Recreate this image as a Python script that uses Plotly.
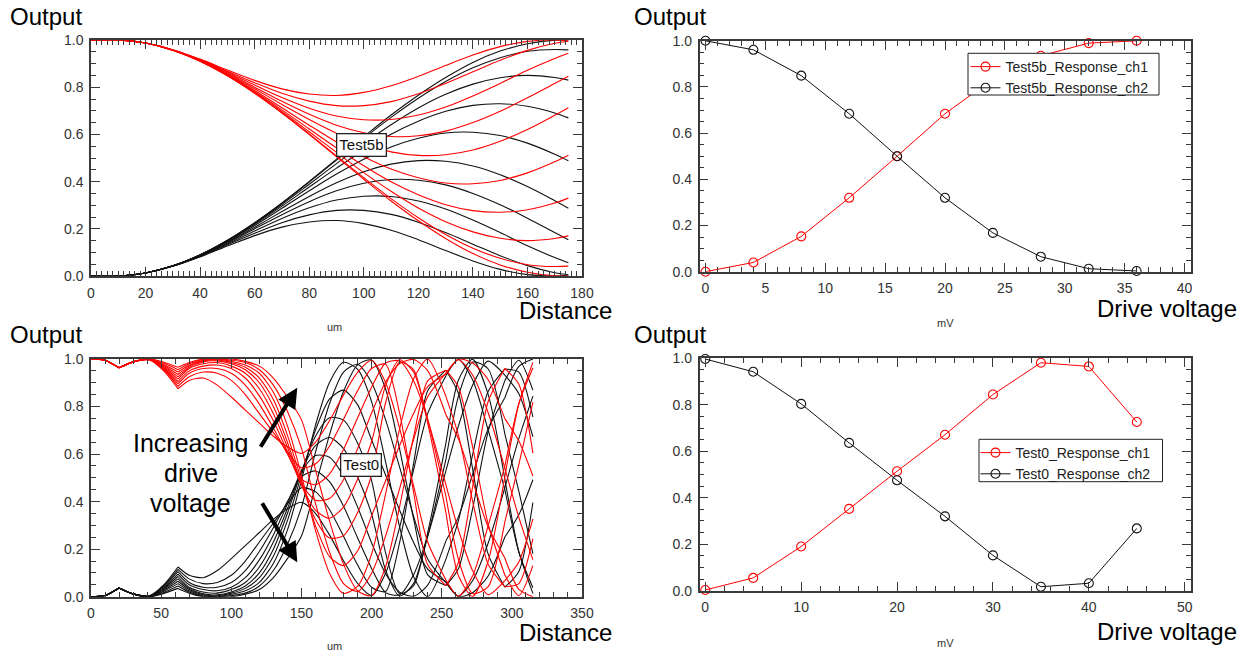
import plotly.graph_objects as go

# ---------------- data: top-left (Test5b, output vs distance) ----------------
TL_X = [0, 10, 20, 30, 40, 50, 60, 70, 80, 90, 100, 110, 120, 130, 140, 150, 160, 170, 175]

TL_RED_1 = [1.0, 1.0, 0.987, 0.959, 0.919, 0.873, 0.829, 0.793, 0.771, 0.765, 0.778, 0.806, 0.846, 0.892, 0.936, 0.972, 0.994, 1.0, 0.996]
TL_RED_2 = [1.0, 1.0, 0.987, 0.958, 0.917, 0.868, 0.819, 0.774, 0.741, 0.722, 0.722, 0.739, 0.772, 0.816, 0.865, 0.914, 0.956, 0.986, 0.995]
TL_RED_3 = [1.0, 1.0, 0.987, 0.958, 0.915, 0.864, 0.809, 0.756, 0.711, 0.678, 0.662, 0.663, 0.682, 0.716, 0.763, 0.816, 0.872, 0.922, 0.944]
TL_RED_4 = [1.0, 1.0, 0.987, 0.958, 0.914, 0.860, 0.800, 0.740, 0.685, 0.639, 0.607, 0.591, 0.594, 0.614, 0.650, 0.698, 0.755, 0.816, 0.846]
TL_RED_5 = [1.0, 1.0, 0.987, 0.957, 0.913, 0.857, 0.793, 0.727, 0.663, 0.605, 0.558, 0.526, 0.511, 0.514, 0.534, 0.571, 0.621, 0.681, 0.713]
TL_RED_6 = [1.0, 1.0, 0.987, 0.957, 0.912, 0.854, 0.786, 0.713, 0.639, 0.568, 0.505, 0.453, 0.416, 0.394, 0.391, 0.405, 0.437, 0.484, 0.512]
TL_RED_7 = [1.0, 1.0, 0.987, 0.957, 0.911, 0.852, 0.781, 0.704, 0.623, 0.543, 0.467, 0.399, 0.344, 0.302, 0.277, 0.270, 0.281, 0.309, 0.330]
TL_RED_8 = [1.0, 1.0, 0.987, 0.957, 0.911, 0.850, 0.778, 0.697, 0.611, 0.524, 0.438, 0.359, 0.288, 0.230, 0.187, 0.160, 0.150, 0.159, 0.170]
TL_RED_9 = [1.0, 1.0, 0.987, 0.957, 0.910, 0.849, 0.775, 0.692, 0.602, 0.509, 0.417, 0.328, 0.247, 0.176, 0.118, 0.075, 0.048, 0.040, 0.042]
TL_RED_10 = [1.0, 1.0, 0.987, 0.957, 0.910, 0.848, 0.774, 0.690, 0.599, 0.505, 0.410, 0.318, 0.234, 0.159, 0.095, 0.047, 0.016, 0.001, 0.000]

TL_BLACK_1 = [0.0, 0.0, 0.013, 0.041, 0.081, 0.127, 0.171, 0.207, 0.229, 0.235, 0.222, 0.194, 0.154, 0.108, 0.064, 0.028, 0.006, 0.0, 0.004]
TL_BLACK_2 = [0.0, 0.0, 0.013, 0.042, 0.083, 0.132, 0.181, 0.226, 0.259, 0.278, 0.278, 0.261, 0.228, 0.184, 0.135, 0.086, 0.044, 0.014, 0.005]
TL_BLACK_3 = [0.0, 0.0, 0.013, 0.042, 0.085, 0.136, 0.191, 0.244, 0.289, 0.322, 0.338, 0.337, 0.318, 0.284, 0.237, 0.184, 0.128, 0.078, 0.056]
TL_BLACK_4 = [0.0, 0.0, 0.013, 0.042, 0.086, 0.140, 0.200, 0.260, 0.315, 0.361, 0.393, 0.409, 0.406, 0.386, 0.350, 0.302, 0.245, 0.184, 0.154]
TL_BLACK_5 = [0.0, 0.0, 0.013, 0.043, 0.087, 0.143, 0.207, 0.273, 0.337, 0.395, 0.442, 0.474, 0.489, 0.486, 0.466, 0.429, 0.379, 0.319, 0.287]
TL_BLACK_6 = [0.0, 0.0, 0.013, 0.043, 0.088, 0.146, 0.214, 0.287, 0.361, 0.432, 0.495, 0.547, 0.584, 0.606, 0.609, 0.595, 0.563, 0.516, 0.488]
TL_BLACK_7 = [0.0, 0.0, 0.013, 0.043, 0.089, 0.148, 0.219, 0.296, 0.377, 0.457, 0.533, 0.601, 0.656, 0.698, 0.723, 0.730, 0.719, 0.691, 0.670]
TL_BLACK_8 = [0.0, 0.0, 0.013, 0.043, 0.089, 0.150, 0.222, 0.303, 0.389, 0.476, 0.562, 0.641, 0.712, 0.770, 0.813, 0.840, 0.850, 0.841, 0.830]
TL_BLACK_9 = [0.0, 0.0, 0.013, 0.043, 0.090, 0.151, 0.225, 0.308, 0.398, 0.491, 0.583, 0.672, 0.753, 0.824, 0.882, 0.925, 0.952, 0.960, 0.958]
TL_BLACK_10 = [0.0, 0.0, 0.013, 0.043, 0.090, 0.152, 0.226, 0.310, 0.401, 0.495, 0.590, 0.682, 0.766, 0.841, 0.905, 0.953, 0.984, 0.999, 1.0]

# ---------------- data: bottom-left (Test0, output vs distance) ----------------
BL_X = [0, 10, 20, 30, 42, 52, 62, 70, 80, 90, 100, 110, 120, 130, 140, 150, 160, 170, 180,
        190, 200, 210, 220, 230, 240, 253, 262, 272, 283, 295, 305, 315]
BL_CUSPS = [20, 62, 253, 295]

BL_RED_0 = [1.0, 0.995, 0.963, 0.988, 0.995, 0.949, 0.875, 0.910, 0.920, 0.890, 0.840, 0.785, 0.730, 0.675, 0.630, 0.603, 0.649, 0.740, 0.849, 0.944, 0.995,
            0.901, 0.708, 0.465, 0.230, 0.070, 0.002, 0.087, 0.296, 0.549, 0.813, 0.962]
BL_RED_1 = [1.0, 0.995, 0.963, 0.988, 0.996, 0.953, 0.885, 0.925, 0.945, 0.940, 0.910, 0.850, 0.770, 0.690, 0.610, 0.542, 0.558, 0.633, 0.746, 0.866, 0.960,
            0.978, 0.772, 0.438, 0.134, 0.047, 0.145, 0.461, 0.819, 0.960, 0.894, 0.604]
BL_RED_2 = [1.0, 0.995, 0.963, 0.988, 0.997, 0.957, 0.895, 0.940, 0.960, 0.960, 0.940, 0.890, 0.810, 0.710, 0.600, 0.495, 0.471, 0.516, 0.619, 0.752, 0.881,
            0.983, 0.992, 0.907, 0.745, 0.470, 0.280, 0.110, 0.009, 0.068, 0.146, 0.327]
BL_RED_3 = [1.0, 0.995, 0.963, 0.988, 0.998, 0.961, 0.905, 0.950, 0.970, 0.975, 0.960, 0.920, 0.845, 0.740, 0.610, 0.473, 0.406, 0.413, 0.492, 0.622, 0.773,
            0.903, 0.981, 0.998, 0.951, 0.765, 0.663, 0.486, 0.295, 0.163, 0.031, 0.000]
BL_RED_4 = [1.0, 0.995, 0.963, 0.988, 0.998, 0.965, 0.915, 0.960, 0.980, 0.985, 0.970, 0.940, 0.875, 0.770, 0.630, 0.471, 0.364, 0.330, 0.377, 0.494, 0.652,
            0.888, 0.997, 0.944, 0.746, 0.422, 0.155, 0.013, 0.041, 0.315, 0.557, 0.819]
BL_RED_5 = [1.0, 0.995, 0.963, 0.988, 0.999, 0.969, 0.925, 0.965, 0.988, 0.992, 0.980, 0.955, 0.900, 0.800, 0.650, 0.474, 0.325, 0.247, 0.257, 0.353, 0.512,
            0.816, 0.987, 0.954, 0.730, 0.354, 0.087, 0.001, 0.147, 0.505, 0.811, 0.986]
BL_RED_6 = [1.0, 0.995, 0.963, 0.988, 0.999, 0.973, 0.935, 0.970, 0.992, 0.996, 0.985, 0.965, 0.920, 0.830, 0.680, 0.489, 0.299, 0.169, 0.131, 0.192, 0.340,
            0.488, 0.636, 0.772, 0.884, 0.937, 1.000, 0.983, 0.914, 0.749, 0.655, 0.508]
BL_RED_7 = [1.0, 0.995, 0.963, 0.988, 1.0, 0.977, 0.945, 0.975, 0.995, 1.0, 0.990, 0.975, 0.940, 0.860, 0.720, 0.511, 0.279, 0.099, 0.014, 0.043, 0.179,
            0.433, 0.706, 0.917, 1.000, 0.842, 0.678, 0.403, 0.138, 0.042, 0.055, 0.244]
BL_RED_8 = [1.0, 0.995, 0.963, 0.988, 1.0, 0.982, 0.955, 0.980, 0.998, 1.0, 0.995, 0.985, 0.955, 0.890, 0.780, 0.625, 0.393, 0.188, 0.055, 0.022, 0.099,
            0.256, 0.455, 0.662, 0.841, 0.941, 0.997, 0.933, 0.776, 0.541, 0.334, 0.156]
BL_RED_9 = [1.0, 0.995, 0.963, 0.988, 1.0, 0.986, 0.965, 0.985, 1.0, 1.0, 1.0, 0.990, 0.970, 0.920, 0.840, 0.745, 0.535, 0.319, 0.137, 0.025, 0.004,
            0.126, 0.379, 0.674, 0.908, 0.953, 0.881, 0.631, 0.308, 0.091, 0.005, 0.131]

BL_BLACK_0 = [0.0, 0.005, 0.037, 0.012, 0.005, 0.051, 0.125, 0.090, 0.080, 0.110, 0.160, 0.215, 0.270, 0.325, 0.370, 0.397, 0.351, 0.260, 0.151, 0.056, 0.005,
              0.099, 0.292, 0.535, 0.770, 0.930, 0.998, 0.913, 0.704, 0.451, 0.187, 0.038]
BL_BLACK_1 = [0.0, 0.005, 0.037, 0.012, 0.004, 0.047, 0.115, 0.075, 0.055, 0.060, 0.090, 0.150, 0.230, 0.310, 0.390, 0.458, 0.442, 0.367, 0.254, 0.134, 0.040,
              0.022, 0.228, 0.562, 0.866, 0.953, 0.855, 0.539, 0.181, 0.040, 0.106, 0.396]
BL_BLACK_2 = [0.0, 0.005, 0.037, 0.012, 0.003, 0.043, 0.105, 0.060, 0.040, 0.040, 0.060, 0.110, 0.190, 0.290, 0.400, 0.505, 0.529, 0.484, 0.381, 0.248, 0.119,
              0.017, 0.008, 0.093, 0.255, 0.530, 0.720, 0.890, 0.991, 0.932, 0.854, 0.673]
BL_BLACK_3 = [0.0, 0.005, 0.037, 0.012, 0.002, 0.039, 0.095, 0.050, 0.030, 0.025, 0.040, 0.080, 0.155, 0.260, 0.390, 0.527, 0.594, 0.587, 0.508, 0.378, 0.227,
              0.097, 0.019, 0.002, 0.049, 0.235, 0.337, 0.514, 0.705, 0.837, 0.969, 1.000]
BL_BLACK_4 = [0.0, 0.005, 0.037, 0.012, 0.002, 0.035, 0.085, 0.040, 0.020, 0.015, 0.030, 0.060, 0.125, 0.230, 0.370, 0.529, 0.636, 0.670, 0.623, 0.506, 0.348,
              0.112, 0.003, 0.056, 0.254, 0.578, 0.845, 0.987, 0.959, 0.685, 0.443, 0.181]
BL_BLACK_5 = [0.0, 0.005, 0.037, 0.012, 0.001, 0.031, 0.075, 0.035, 0.012, 0.008, 0.020, 0.045, 0.100, 0.200, 0.350, 0.526, 0.675, 0.753, 0.743, 0.647, 0.488,
              0.184, 0.013, 0.046, 0.270, 0.646, 0.913, 0.999, 0.853, 0.495, 0.189, 0.014]
BL_BLACK_6 = [0.0, 0.005, 0.037, 0.012, 0.001, 0.027, 0.065, 0.030, 0.008, 0.004, 0.015, 0.035, 0.080, 0.170, 0.320, 0.511, 0.701, 0.831, 0.869, 0.808, 0.660,
              0.512, 0.364, 0.228, 0.116, 0.063, 0.000, 0.017, 0.086, 0.251, 0.345, 0.492]
BL_BLACK_7 = [0.0, 0.005, 0.037, 0.012, 0.0, 0.023, 0.055, 0.025, 0.005, 0.0, 0.010, 0.025, 0.060, 0.140, 0.280, 0.489, 0.721, 0.901, 0.986, 0.957, 0.821,
              0.567, 0.294, 0.083, 0.000, 0.158, 0.322, 0.597, 0.862, 0.958, 0.945, 0.756]
BL_BLACK_8 = [0.0, 0.005, 0.037, 0.012, 0.0, 0.018, 0.045, 0.020, 0.002, 0.0, 0.005, 0.015, 0.045, 0.110, 0.220, 0.375, 0.607, 0.812, 0.945, 0.978, 0.901,
              0.744, 0.545, 0.338, 0.159, 0.059, 0.003, 0.067, 0.224, 0.459, 0.666, 0.844]
BL_BLACK_9 = [0.0, 0.005, 0.037, 0.012, 0.0, 0.014, 0.035, 0.015, 0.0, 0.0, 0.0, 0.010, 0.030, 0.080, 0.160, 0.255, 0.465, 0.681, 0.863, 0.975, 0.996,
              0.874, 0.621, 0.326, 0.092, 0.047, 0.119, 0.369, 0.692, 0.909, 0.995, 0.869]

# ---------------- data: right panels (response vs drive voltage) ----------------
TR_X = [0, 4, 8, 12, 16, 20, 24, 28, 32, 36]
TR_CH1 = [0.0, 0.04, 0.153, 0.32, 0.5, 0.684, 0.835, 0.935, 0.99, 1.0]
TR_CH2 = [1.0, 0.961, 0.849, 0.684, 0.5, 0.32, 0.168, 0.065, 0.013, 0.003]
TR_NAMES = ["Test5b_Response_ch1", "Test5b_Response_ch2"]

BR_X = [0, 5, 10, 15, 20, 25, 30, 35, 40, 45]
BR_CH1 = [0.003, 0.055, 0.19, 0.352, 0.514, 0.671, 0.844, 0.981, 0.965, 0.726]
BR_CH2 = [0.997, 0.942, 0.804, 0.636, 0.475, 0.32, 0.152, 0.017, 0.032, 0.268]
BR_NAMES = ["Test0_Response_ch1", "Test0_Response_ch2"]

TL_REDS = [TL_RED_1, TL_RED_2, TL_RED_3, TL_RED_4, TL_RED_5, TL_RED_6, TL_RED_7, TL_RED_8, TL_RED_9, TL_RED_10]
TL_BLACKS = [TL_BLACK_1, TL_BLACK_2, TL_BLACK_3, TL_BLACK_4, TL_BLACK_5, TL_BLACK_6, TL_BLACK_7, TL_BLACK_8, TL_BLACK_9, TL_BLACK_10]
BL_REDS = [BL_RED_0, BL_RED_1, BL_RED_2, BL_RED_3, BL_RED_4, BL_RED_5, BL_RED_6, BL_RED_7, BL_RED_8, BL_RED_9]
BL_BLACKS = [BL_BLACK_0, BL_BLACK_1, BL_BLACK_2, BL_BLACK_3, BL_BLACK_4, BL_BLACK_5, BL_BLACK_6, BL_BLACK_7, BL_BLACK_8, BL_BLACK_9]

RED = "#ff0000"
BLACK = "#111111"
AXC = "#3a3a3a"
FONT = "Liberation Sans, Arial, sans-serif"
W, H = 1244, 656


def split_at(xs, ys, cusps):
    """Break a curve into separately-smoothed pieces at the cusp positions."""
    ox, oy = [], []
    for i, (x, y) in enumerate(zip(xs, ys)):
        ox.append(x)
        oy.append(y)
        if x in cusps and 0 < i < len(xs) - 1:
            ox += [None, x]
            oy += [None, y]
    return ox, oy


fig = go.Figure()

# top-left
for ys in TL_BLACKS:
    fig.add_trace(go.Scatter(x=TL_X, y=ys, mode="lines", line=dict(color=BLACK, width=1.1, shape="spline"),
                             showlegend=False, hoverinfo="skip", xaxis="x", yaxis="y"))
for ys in TL_REDS:
    fig.add_trace(go.Scatter(x=TL_X, y=ys, mode="lines", line=dict(color=RED, width=1.1, shape="spline"),
                             showlegend=False, hoverinfo="skip", xaxis="x", yaxis="y"))

# bottom-left
for ys in BL_BLACKS:
    sx, sy = split_at(BL_X, ys, BL_CUSPS)
    fig.add_trace(go.Scatter(x=sx, y=sy, mode="lines", connectgaps=False,
                             line=dict(color=BLACK, width=1.1, shape="spline", smoothing=0.7),
                             showlegend=False, hoverinfo="skip", xaxis="x3", yaxis="y3"))
for ys in BL_REDS:
    sx, sy = split_at(BL_X, ys, BL_CUSPS)
    fig.add_trace(go.Scatter(x=sx, y=sy, mode="lines", connectgaps=False,
                             line=dict(color=RED, width=1.1, shape="spline", smoothing=0.7),
                             showlegend=False, hoverinfo="skip", xaxis="x3", yaxis="y3"))

# top-right
for ys, name, col in [(TR_CH1, TR_NAMES[0], RED), (TR_CH2, TR_NAMES[1], BLACK)]:
    fig.add_trace(go.Scatter(x=TR_X, y=ys, name=name, mode="lines+markers", cliponaxis=False,
                             line=dict(color=col, width=1),
                             marker=dict(symbol="circle-open", size=9, color=col, line=dict(width=1.1, color=col)),
                             xaxis="x2", yaxis="y2", legend="legend"))
# bottom-right
for ys, name, col in [(BR_CH1, BR_NAMES[0], RED), (BR_CH2, BR_NAMES[1], BLACK)]:
    fig.add_trace(go.Scatter(x=BR_X, y=ys, name=name, mode="lines+markers", cliponaxis=False,
                             line=dict(color=col, width=1),
                             marker=dict(symbol="circle-open", size=9, color=col, line=dict(width=1.1, color=col)),
                             xaxis="x4", yaxis="y4", legend="legend2"))


def px_x(p):
    return p / W


def px_y(p):
    return 1 - p / H


def axis(rng, dtick, minor_dtick, domain, anchor, fmt=None):
    d = dict(range=rng, dtick=dtick, tick0=0, domain=domain, anchor=anchor, automargin=False,
             showline=True, linecolor=AXC, linewidth=1.5, mirror="ticks",
             ticks="inside", ticklen=9, tickwidth=1.3, tickcolor=AXC, ticklabelstandoff=3,
             minor=dict(dtick=minor_dtick, tick0=0, ticks="inside", ticklen=5, tickwidth=1, tickcolor=AXC),
             showgrid=False, zeroline=False, fixedrange=True,
             tickfont=dict(family=FONT, size=14, color="#333333"))
    if fmt:
        d["tickformat"] = fmt
    return d


L_DOM = [px_x(91), px_x(582)]
R_DOM = [px_x(699.5), px_x(1190.5)]

fig.update_layout(
    template="none",
    width=W, height=H, autosize=False,
    margin=dict(l=0, r=0, t=0, b=0, pad=0, autoexpand=False),
    paper_bgcolor="white", plot_bgcolor="white",
    font=dict(family=FONT, color="#111111"),
    xaxis=axis([0, 180], 20, 2, L_DOM, "y"),
    yaxis=axis([0, 1], 0.2, 0.05, [px_y(276), px_y(40)], "x", ".1f"),
    xaxis2=axis([-0.5, 40.5], 5, 1, R_DOM, "y2"),
    yaxis2=axis([0, 1], 0.2, 0.05, [px_y(271.7), px_y(40.8)], "x2", ".1f"),
    xaxis3=axis([0, 350], 50, 10, L_DOM, "y3"),
    yaxis3=axis([0, 1], 0.2, 0.05, [px_y(596.7), px_y(359)], "x3", ".1f"),
    xaxis4=axis([-0.6, 50.6], 10, 2, R_DOM, "y4"),
    yaxis4=axis([0, 1], 0.2, 0.05, [px_y(590.7), px_y(358.3)], "x4", ".1f"),
    legend=dict(x=px_x(965.5), y=px_y(51), xanchor="left", yanchor="top",
                borderwidth=0, bgcolor="rgba(0,0,0,0)",
                font=dict(family=FONT, size=14, color="#222222"), tracegroupgap=0),
    legend2=dict(x=px_x(975.5), y=px_y(437), xanchor="left", yanchor="top",
                 borderwidth=0, bgcolor="rgba(0,0,0,0)",
                 font=dict(family=FONT, size=14, color="#222222"), tracegroupgap=0),
    shapes=[
        dict(type="rect", xref="paper", yref="paper", layer="above",
             x0=px_x(968), x1=px_x(1159), y0=px_y(95), y1=px_y(53.3),
             fillcolor="white", line=dict(color="#222222", width=1)),
        dict(type="rect", xref="paper", yref="paper", layer="above",
             x0=px_x(979), x1=px_x(1162.5), y0=px_y(481.7), y1=px_y(439.3),
             fillcolor="white", line=dict(color="#222222", width=1)),
    ],
)

ann = []


def text(t, x, y, size, xanchor="center", color="#000000", yanchor="middle"):
    ann.append(dict(text=t, x=px_x(x), y=px_y(y), xref="paper", yref="paper", showarrow=False,
                    xanchor=xanchor, yanchor=yanchor, font=dict(family=FONT, size=size, color=color)))


text("Output", 8, 17, 24, "left")
text("Output", 8, 335, 24, "left")
text("Output", 632, 17, 24, "left")
text("Output", 632, 334, 24, "left")
text("Distance", 614, 310, 24, "right")
text("Distance", 614, 632, 24, "right")
text("Drive voltage", 1239, 309, 24, "right")
text("Drive voltage", 1239, 631, 24, "right")
text("um", 335, 327, 11, color="#333333")
text("um", 335, 646, 11, color="#333333")
text("mV", 946, 323, 11, color="#333333")
text("mV", 946, 643, 11, color="#333333")
text("Increasing", 190.5, 443, 25)
text("drive", 190.5, 473, 25)
text("voltage", 190.5, 503, 25)

for t, cx, cy in [("Test5b", 361, 145), ("Test0", 360.5, 465)]:
    ann.append(dict(text=t, x=px_x(cx), y=px_y(cy), xref="paper", yref="paper", showarrow=False,
                    xanchor="center", yanchor="middle", bgcolor="white", bordercolor="#222222",
                    borderwidth=1.3, borderpad=2, font=dict(family=FONT, size=15, color="#111111")))

# arrows: tip position, tail offset in pixels
for tip, tail in [((297.3, 387.7), (259.7, 448.3)), ((297.3, 562.3), (261.3, 501.7))]:
    ann.append(dict(text="", x=px_x(tip[0]), y=px_y(tip[1]), xref="paper", yref="paper",
                    ax=tail[0] - tip[0], ay=tail[1] - tip[1], axref="pixel", ayref="pixel",
                    showarrow=True, arrowhead=2, arrowsize=1.0, arrowwidth=4, arrowcolor="#000000",
                    standoff=0, startstandoff=0))

fig.update_layout(annotations=ann)

fig.write_html("out.html", config={"displayModeBar": False},
               post_script="document.body.style.margin='0px';document.body.style.overflow='hidden';")
